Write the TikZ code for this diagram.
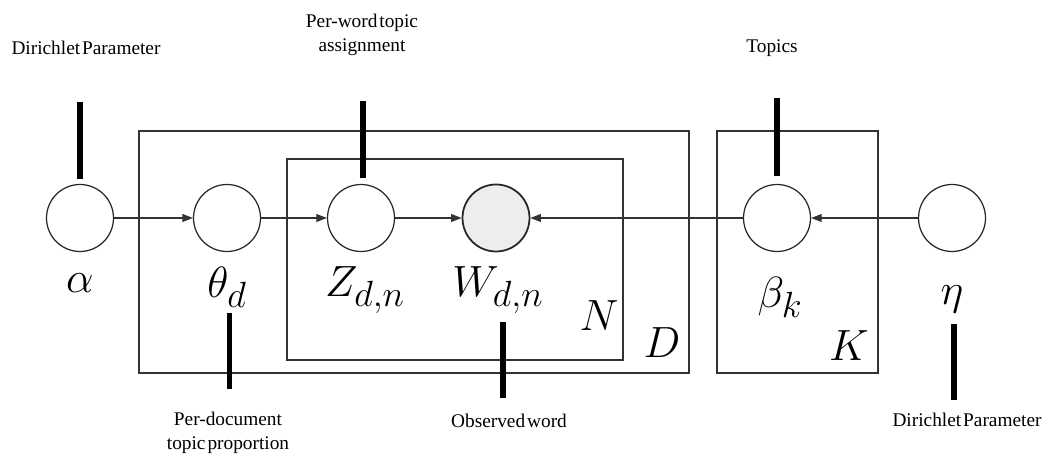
\documentclass[tikz,border=0pt]{standalone}
\usepackage{fontspec}
\setmainfont{Liberation Serif}
\usetikzlibrary{arrows.meta}
\newcommand\tightsp{\spaceskip=0.1em\relax}
\begin{document}
\begin{tikzpicture}[x=0.02cm,y=-0.02cm]
    \tikzstyle{every node}+=[inner sep=0pt]
    \tikzstyle{var}=[draw=black!85,line width=0.7pt,circle,minimum size=1.34cm]
    \tikzstyle{obs}=[var,fill=black!7,line width=1pt]
    \tikzstyle{lbl}=[font=\Huge]
    \tikzstyle{note}=[font=\fontsize{11}{13.6}\selectfont\tightsp,align=center]
    \tikzstyle{pin}=[line width=3pt]
    \tikzstyle{edge}=[draw=black!80,line width=0.6pt,-{Triangle[length=6pt,width=4.5pt]}]
    \tikzstyle{plate}=[draw=black!80,line width=0.7pt]
    \useasboundingbox (0,0) rectangle (1047,455);
    \draw [plate] (139,131) rectangle (689,373);
    \draw [plate] (287,159) rectangle (623,360);
    \draw [plate] (717,131) rectangle (878,373);
    \node [var] (alpha) at (80,218) {};
    \node [var] (theta) at (227,218) {};
    \node [var] (z) at (361,218) {};
    \node [obs] (w) at (496,218) {};
    \node [var] (beta) at (777,218) {};
    \node [var] (eta) at (952,218) {};
    \node [lbl] (alphalbl) at (80,283) {$\alpha$};
    \node [lbl] (thetalbl) at (227,287) {$\theta_d$};
    \node [lbl] (zlbl) at (365,290) {$Z_{d,n}$};
    \node [lbl] (wlbl) at (498,290) {$W_{d,n}$};
    \node [lbl] (betalbl) at (780,297) {$\beta_k$};
    \node [lbl] (etalbl) at (952,299) {$\eta$};
    \node [lbl] (nlbl) at (599,316) {$N$};
    \node [lbl] (dlbl) at (662,343) {$D$};
    \node [lbl] (klbl) at (849,346) {$K$};
    \draw [edge] (alpha) -- (theta);
    \draw [edge] (theta) -- (z);
    \draw [edge] (z) -- (w);
    \draw [edge] (beta) -- (w);
    \draw [edge] (eta) -- (beta);
    \node [note] (dirtop) at (86,48) {Dirichlet Parameter};
    \node [note] (perword) at (362,35) {Per-word topic\\assignment};
    \node [note] (topics) at (772,48) {Topics};
    \node [note] (perdoc) at (228,433) {Per-document\\topic proportion};
    \node [note] (observed) at (509,421) {Observed word};
    \node [note] (dirbot) at (967,420) {Dirichlet Parameter};
    \draw [pin] (alpha.north) ++(0,-5) -- ++(0,-77);
    \draw [pin] (z.north) ++(2,-5.5) -- ++(0,-77);
    \draw [pin] (beta.north) ++(0,-7.5) -- ++(0,-78);
    \draw [pin] (theta.south) ++(2.6,61) -- ++(0,76);
    \draw [pin] (w.south) ++(7,69.5) -- ++(0,76);
    \draw [pin] (eta.south) ++(2,71.5) -- ++(0,76);
\end{tikzpicture}
\end{document}
